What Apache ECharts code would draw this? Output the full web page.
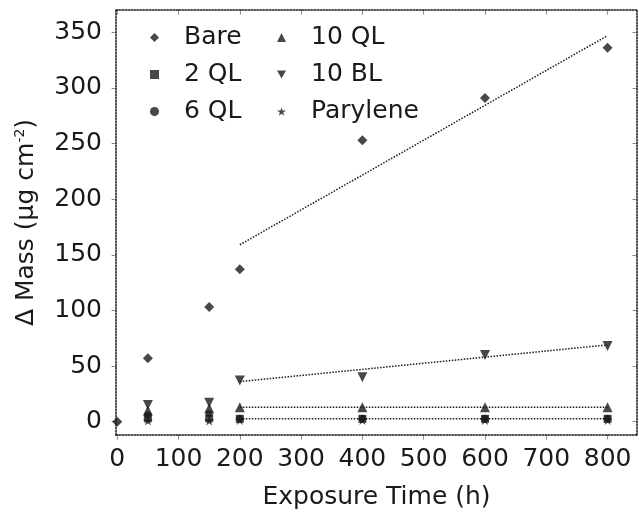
<!DOCTYPE html>
<html>
<head>
<meta charset="utf-8">
<script src="https://cdn.jsdelivr.net/npm/echarts@6/dist/echarts.min.js"></script>
<style>
html,body{margin:0;padding:0;background:#fff;}
#c{width:639px;height:513px;}
</style>
</head>
<body>
<div id="c"></div>
<script>
// Data
const seriesNames = ['Bare', '2 QL', '6 QL', '10 QL', '10 BL', 'Parylene'];
const bare     = [[0, 0], [50, 57], [150, 103], [200, 137], [400, 253], [600, 291], [800, 336]];
const ql2      = [[50, 3], [150, 3], [200, 2.5], [400, 2.5], [600, 2.5], [800, 2.5]];
const ql6      = [[50, 6], [150, 7], [200, 3], [400, 3], [600, 3], [800, 3]];
const ql10     = [[50, 10], [150, 12], [200, 13], [400, 13], [600, 13], [800, 13]];
const bl10     = [[50, 15], [150, 17], [200, 37], [400, 40], [600, 60], [800, 68]];
const parylene = [[50, 1], [150, 1], [200, 1.5], [400, 1.5], [600, 1.5], [800, 1.5]];
// Fitted trend lines (end points)
const bareFit  = [[200, 159], [800, 347]];
const bl10Fit  = [[200, 36], [800, 69]];
const ql10Fit  = [[200, 13], [800, 13]];
const lowFit   = [[200, 2.5], [800, 2.5]];
const xTicks = [0, 100, 200, 300, 400, 500, 600, 700, 800];
const yTicks = [0, 50, 100, 150, 200, 250, 300, 350];

const FONT = 'DejaVu Sans';
const INK = '#1a1a1a';
const starPath = 'path://M50,0 L61,35 L98,35 L68,57 L79,92 L50,70 L21,92 L32,57 L2,35 L39,35 Z';
const triDown = 'path://M0,0 L100,0 L50,90 Z';
const symbols = {
  'Bare': {symbol: 'diamond', size: 10},
  '2 QL': {symbol: 'rect', size: 8},
  '6 QL': {symbol: 'circle', size: 7},
  '10 QL': {symbol: 'triangle', size: 10},
  '10 BL': {symbol: triDown, size: 10},
  'Parylene': {symbol: starPath, size: 10}
};
const dataMap = {'Bare': bare, '2 QL': ql2, '6 QL': ql6, '10 QL': ql10, '10 BL': bl10, 'Parylene': parylene};

const scatterSeries = seriesNames.map(n => ({
  name: n, type: 'scatter', data: dataMap[n],
  symbol: symbols[n].symbol, symbolSize: symbols[n].size,
  itemStyle: {color: INK}, z: 5
}));
const fitLine = d => ({
  type: 'line', data: d, symbol: 'none', silent: true,
  lineStyle: {color: INK, width: 1.5, type: 'dotted'}, z: 3
});

const axisLineStyle = {show: true, onZero: false, lineStyle: {color: INK, width: 1.5, type: 'dotted'}};
const tickStyle = {color: INK, type: 'dotted', width: 1.2};
const legendText = {fontFamily: FONT, fontSize: 25, color: INK, lineHeight: 25, padding: [0, 0, 0, 20]};
const legendItems = names => names.map(n => ({name: n, icon: symbols[n].symbol}));

const chart = echarts.init(document.getElementById('c'), null, {renderer: 'canvas'});
chart.setOption({
  animation: false,
  backgroundColor: '#fff',
  grid: {left: 116, right: 2, top: 10, bottom: 78, containLabel: false, outerBoundsMode: 'none'},
  legend: [
    {data: legendItems(['Bare', '2 QL', '6 QL']), orient: 'vertical', left: 145, top: 20,
     itemWidth: 9, itemHeight: 9, itemGap: 12, textStyle: legendText},
    {data: legendItems(['10 QL', '10 BL', 'Parylene']), orient: 'vertical', left: 272, top: 20,
     itemWidth: 9, itemHeight: 9, itemGap: 12, textStyle: legendText}
  ],
  xAxis: [
    {
      type: 'value', min: -2, max: 848, position: 'bottom',
      name: 'Exposure Time (h)', nameLocation: 'middle', nameGap: 50,
      nameTextStyle: {fontFamily: FONT, fontSize: 25, color: INK},
      axisLine: axisLineStyle, splitLine: {show: false},
      axisTick: {show: true, inside: false, length: 5, customValues: xTicks, lineStyle: tickStyle},
      axisLabel: {show: true, customValues: xTicks, margin: 12, fontFamily: FONT, fontSize: 25, color: INK}
    },
    {
      type: 'value', min: -2, max: 848, position: 'top',
      axisLine: axisLineStyle, splitLine: {show: false},
      axisTick: {show: true, inside: true, length: 5, customValues: xTicks, lineStyle: tickStyle},
      axisLabel: {show: false}
    }
  ],
  yAxis: [
    {
      type: 'value', min: -12, max: 370, position: 'left',
      name: '{n|Δ Mass (µg cm}{s|-2}{n|)}', nameLocation: 'middle', nameGap: 77,
      nameTextStyle: {fontFamily: FONT, fontSize: 25, color: INK,
        rich: {n: {fontFamily: FONT, fontSize: 25, color: INK},
               s: {fontFamily: FONT, fontSize: 14, color: INK, verticalAlign: 'top', padding: [0, 0, 12, 0]}}},
      axisLine: axisLineStyle, splitLine: {show: false},
      axisTick: {show: true, inside: false, length: 5, customValues: yTicks, lineStyle: tickStyle},
      axisLabel: {show: true, customValues: yTicks, margin: 14, fontFamily: FONT, fontSize: 25, color: INK}
    },
    {
      type: 'value', min: -12, max: 370, position: 'right',
      axisLine: axisLineStyle, splitLine: {show: false},
      axisTick: {show: true, inside: true, length: 5, customValues: yTicks, lineStyle: tickStyle},
      axisLabel: {show: false}
    }
  ],
  series: [
    ...scatterSeries,
    fitLine(bareFit), fitLine(bl10Fit), fitLine(ql10Fit), fitLine(lowFit)
  ]
});
</script>
</body>
</html>
